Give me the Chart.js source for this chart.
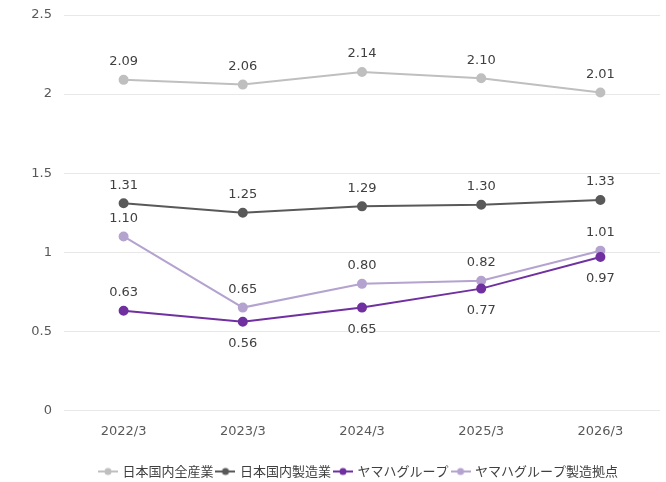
<!DOCTYPE html>
<html><head><meta charset="utf-8">
<script src="https://cdn.jsdelivr.net/npm/chart.js@4/dist/chart.umd.min.js"></script>
<style>html,body{margin:0;padding:0;background:#fff;}#wrap{width:666px;height:482px;}</style>
</head><body><div id="wrap"><canvas id="c"></canvas></div>
<script>
const categories = ['2022/3','2023/3','2024/3','2025/3','2026/3'];
const seriesNames = ['日本国内全産業','日本国内製造業','ヤマハグループ','ヤマハグループ製造拠点'];
const allIndustry = [2.09, 2.06, 2.14, 2.10, 2.01];
const manufacturing = [1.31, 1.25, 1.29, 1.30, 1.33];
const yamahaGroup = [0.63, 0.56, 0.65, 0.77, 0.97];
const yamahaMfgSites = [1.10, 0.65, 0.80, 0.82, 1.01];
const yTicks = [0, 0.5, 1, 1.5, 2, 2.5];

const colors = ['#bfbfbf', '#595959', '#7030a0', '#b4a2cf'];
const labelPos = [
  ['up','up','up','up','up'],
  ['up','up','up','up','up'],
  ['up','down','down','down','down'],
  ['up','up','up','up','up']
];

function legendIcon(color){
  const cv = document.createElement('canvas');
  cv.width = 20; cv.height = 10;
  const g = cv.getContext('2d');
  g.strokeStyle = color; g.lineWidth = 2;
  g.beginPath(); g.moveTo(0,5); g.lineTo(20,5); g.stroke();
  g.fillStyle = color; g.beginPath(); g.arc(10,5,3.5,0,Math.PI*2); g.fill();
  return cv;
}
const icons = colors.map(legendIcon);

const dataLabelPlugin = {
  id: 'dataLabels',
  afterLayout(chart){
    const lg = chart.legend;
    if (lg) { lg.left += 26; lg.right += 26; lg.top += 17; lg.bottom += 17; }
  },
  afterDatasetsDraw(chart){
    const ctx = chart.ctx;
    ctx.save();
    ctx.font = '13px "DejaVu Sans", sans-serif';
    ctx.fillStyle = '#404040';
    ctx.textAlign = 'center';
    ctx.textBaseline = 'middle';
    chart.data.datasets.forEach((ds, i) => {
      const meta = chart.getDatasetMeta(i);
      meta.data.forEach((pt, j) => {
        const pos = labelPos[i][j];
        const y = pos === 'up' ? pt.y - 18 : pt.y + 22;
        ctx.fillText(ds.data[j].toFixed(2), pt.x, y);
      });
    });
    ctx.restore();
  }
};

const seriesData = [allIndustry, manufacturing, yamahaGroup, yamahaMfgSites];
new Chart(document.getElementById('c'), {
  type: 'line',
  data: {
    labels: categories,
    datasets: seriesData.map((d, i) => ({
      label: seriesNames[i],
      data: d,
      borderColor: colors[i],
      backgroundColor: colors[i],
      borderWidth: 2,
      pointRadius: 4,
      pointHoverRadius: 4,
      tension: 0
    }))
  },
  options: {
    responsive: true,
    maintainAspectRatio: false,
    animation: false,
    layout: { padding: { left: 4, right: 4, top: 15, bottom: 11 } },
    scales: {
      x: {
        offset: true,
        grid: { display: false },
        border: { display: false },
        ticks: { color: '#595959', font: { family: '"DejaVu Sans", sans-serif', size: 13 }, padding: 5 }
      },
      y: {
        min: 0, max: 2.5,
        afterBuildTicks(s){ s.ticks = yTicks.map(v => ({ value: v })); },
        afterFit(s){ s.width = 60; s.paddingTop = 0; s.paddingBottom = 0; },
        grid: { color: '#e8e8e8', lineWidth: 1, drawTicks: false },
        border: { display: false },
        ticks: { color: '#595959', font: { family: '"DejaVu Sans", sans-serif', size: 13 }, padding: 12,
          callback: v => String(v) }
      }
    },
    plugins: {
      tooltip: { enabled: false },
      legend: {
        position: 'bottom',
        labels: {
          color: '#404040',
          font: { family: '"Noto Sans CJK JP", sans-serif', size: 13 },
          usePointStyle: true,
          pointStyleWidth: 16,
          boxHeight: 10,
          padding: 4,
          generateLabels(chart){
            const items = Chart.defaults.plugins.legend.labels.generateLabels(chart);
            items.forEach((it, i) => { it.pointStyle = icons[i]; });
            return items;
          }
        }
      }
    }
  },
  plugins: [dataLabelPlugin]
});
</script></body></html>
